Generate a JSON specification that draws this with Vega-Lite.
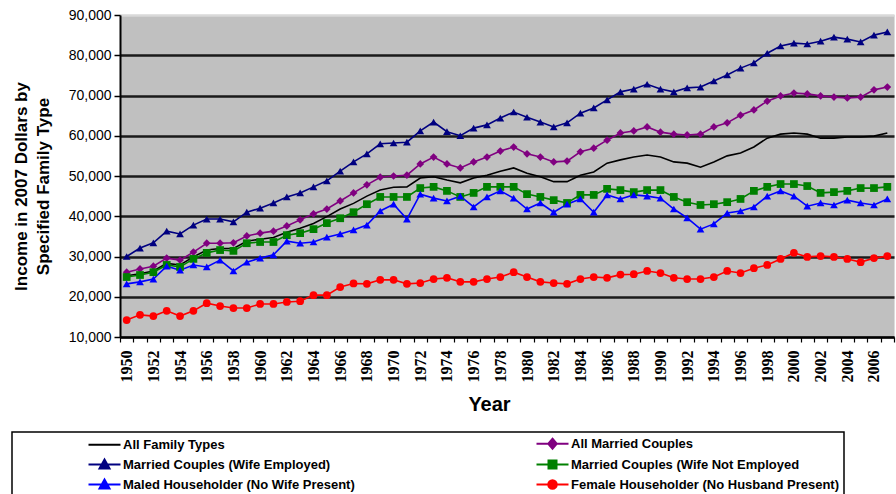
{
  "$schema": "https://vega.github.io/schema/vega-lite/v6.json",
  "width": 774,
  "height": 322,
  "autosize": "none",
  "padding": {"left": 120, "top": 15, "right": 2, "bottom": 157},
  "background": "#ffffff",
  "config": {
    "view": {"fill": "#c0c0c0", "stroke": "#dcdcdc", "strokeWidth": 1},
    "legend": {
      "orient": "none", "legendX": -108, "legendY": 417, "columns": 2, "direction": "horizontal", "columnPadding": 110,
      "rowPadding": 2, "padding": 5, "fillColor": "#ffffff", "strokeColor": "#000000", "strokeWidth": 1.5,
      "symbolSize": 100, "symbolStrokeWidth": 2, "symbolOffset": 81, "labelOffset": 12,
      "labelFont": "Liberation Sans", "labelFontSize": 13, "labelFontWeight": "bold", "labelColor": "#000000", "labelLimit": 400
    }
  },
  "data": {"values": [
    {"year":1950,"series":"AF","income":25200},{"year":1951,"series":"AF","income":25700},{"year":1952,"series":"AF","income":26400},{"year":1953,"series":"AF","income":28300},{"year":1954,"series":"AF","income":27900},{"year":1955,"series":"AF","income":29900},{"year":1956,"series":"AF","income":31600},{"year":1957,"series":"AF","income":32000},{"year":1958,"series":"AF","income":32000},{"year":1959,"series":"AF","income":33800},
    {"year":1960,"series":"AF","income":34300},{"year":1961,"series":"AF","income":34700},{"year":1962,"series":"AF","income":36000},{"year":1963,"series":"AF","income":37000},{"year":1964,"series":"AF","income":38200},{"year":1965,"series":"AF","income":39900},{"year":1966,"series":"AF","income":41800},{"year":1967,"series":"AF","income":43200},{"year":1968,"series":"AF","income":45000},{"year":1969,"series":"AF","income":46500},
    {"year":1970,"series":"AF","income":47200},{"year":1971,"series":"AF","income":47300},{"year":1972,"series":"AF","income":49500},{"year":1973,"series":"AF","income":49800},{"year":1974,"series":"AF","income":49000},{"year":1975,"series":"AF","income":48300},{"year":1976,"series":"AF","income":49500},{"year":1977,"series":"AF","income":50200},{"year":1978,"series":"AF","income":51200},{"year":1979,"series":"AF","income":52000},
    {"year":1980,"series":"AF","income":50700},{"year":1981,"series":"AF","income":49800},{"year":1982,"series":"AF","income":48600},{"year":1983,"series":"AF","income":48600},{"year":1984,"series":"AF","income":50200},{"year":1985,"series":"AF","income":51000},{"year":1986,"series":"AF","income":53200},{"year":1987,"series":"AF","income":54000},{"year":1988,"series":"AF","income":54700},{"year":1989,"series":"AF","income":55200},
    {"year":1990,"series":"AF","income":54700},{"year":1991,"series":"AF","income":53500},{"year":1992,"series":"AF","income":53200},{"year":1993,"series":"AF","income":52200},{"year":1994,"series":"AF","income":53500},{"year":1995,"series":"AF","income":55000},{"year":1996,"series":"AF","income":55700},{"year":1997,"series":"AF","income":57200},{"year":1998,"series":"AF","income":59400},{"year":1999,"series":"AF","income":60400},
    {"year":2000,"series":"AF","income":60700},{"year":2001,"series":"AF","income":60400},{"year":2002,"series":"AF","income":59400},{"year":2003,"series":"AF","income":59400},{"year":2004,"series":"AF","income":59700},{"year":2005,"series":"AF","income":59700},{"year":2006,"series":"AF","income":59900},{"year":2007,"series":"AF","income":60700},

    {"year":1950,"series":"MC","income":26100},{"year":1951,"series":"MC","income":26900},{"year":1952,"series":"MC","income":27600},{"year":1953,"series":"MC","income":29600},{"year":1954,"series":"MC","income":29100},{"year":1955,"series":"MC","income":31100},{"year":1956,"series":"MC","income":33300},{"year":1957,"series":"MC","income":33300},{"year":1958,"series":"MC","income":33400},{"year":1959,"series":"MC","income":35100},
    {"year":1960,"series":"MC","income":35800},{"year":1961,"series":"MC","income":36300},{"year":1962,"series":"MC","income":37600},{"year":1963,"series":"MC","income":39100},{"year":1964,"series":"MC","income":40600},{"year":1965,"series":"MC","income":41800},{"year":1966,"series":"MC","income":43800},{"year":1967,"series":"MC","income":45800},{"year":1968,"series":"MC","income":47800},{"year":1969,"series":"MC","income":49700},
    {"year":1970,"series":"MC","income":50000},{"year":1971,"series":"MC","income":50200},{"year":1972,"series":"MC","income":53000},{"year":1973,"series":"MC","income":54700},{"year":1974,"series":"MC","income":53000},{"year":1975,"series":"MC","income":52000},{"year":1976,"series":"MC","income":53500},{"year":1977,"series":"MC","income":54700},{"year":1978,"series":"MC","income":56200},{"year":1979,"series":"MC","income":57200},
    {"year":1980,"series":"MC","income":55500},{"year":1981,"series":"MC","income":54700},{"year":1982,"series":"MC","income":53500},{"year":1983,"series":"MC","income":53700},{"year":1984,"series":"MC","income":56000},{"year":1985,"series":"MC","income":56900},{"year":1986,"series":"MC","income":58900},{"year":1987,"series":"MC","income":60700},{"year":1988,"series":"MC","income":61200},{"year":1989,"series":"MC","income":62200},
    {"year":1990,"series":"MC","income":60900},{"year":1991,"series":"MC","income":60400},{"year":1992,"series":"MC","income":60200},{"year":1993,"series":"MC","income":60400},{"year":1994,"series":"MC","income":62200},{"year":1995,"series":"MC","income":63200},{"year":1996,"series":"MC","income":65100},{"year":1997,"series":"MC","income":66400},{"year":1998,"series":"MC","income":68600},{"year":1999,"series":"MC","income":69900},
    {"year":2000,"series":"MC","income":70600},{"year":2001,"series":"MC","income":70400},{"year":2002,"series":"MC","income":69900},{"year":2003,"series":"MC","income":69600},{"year":2004,"series":"MC","income":69400},{"year":2005,"series":"MC","income":69600},{"year":2006,"series":"MC","income":71400},{"year":2007,"series":"MC","income":72100},

    {"year":1950,"series":"WE","income":30000},{"year":1951,"series":"WE","income":32100},{"year":1952,"series":"WE","income":33400},{"year":1953,"series":"WE","income":36300},{"year":1954,"series":"WE","income":35600},{"year":1955,"series":"WE","income":37800},{"year":1956,"series":"WE","income":39300},{"year":1957,"series":"WE","income":39300},{"year":1958,"series":"WE","income":38600},{"year":1959,"series":"WE","income":41000},
    {"year":1960,"series":"WE","income":42000},{"year":1961,"series":"WE","income":43300},{"year":1962,"series":"WE","income":44800},{"year":1963,"series":"WE","income":45800},{"year":1964,"series":"WE","income":47300},{"year":1965,"series":"WE","income":48800},{"year":1966,"series":"WE","income":51200},{"year":1967,"series":"WE","income":53500},{"year":1968,"series":"WE","income":55500},{"year":1969,"series":"WE","income":58000},
    {"year":1970,"series":"WE","income":58200},{"year":1971,"series":"WE","income":58400},{"year":1972,"series":"WE","income":61200},{"year":1973,"series":"WE","income":63400},{"year":1974,"series":"WE","income":61000},{"year":1975,"series":"WE","income":60000},{"year":1976,"series":"WE","income":61900},{"year":1977,"series":"WE","income":62700},{"year":1978,"series":"WE","income":64400},{"year":1979,"series":"WE","income":65900},
    {"year":1980,"series":"WE","income":64600},{"year":1981,"series":"WE","income":63400},{"year":1982,"series":"WE","income":62200},{"year":1983,"series":"WE","income":63200},{"year":1984,"series":"WE","income":65600},{"year":1985,"series":"WE","income":66900},{"year":1986,"series":"WE","income":68900},{"year":1987,"series":"WE","income":70900},{"year":1988,"series":"WE","income":71600},{"year":1989,"series":"WE","income":72800},
    {"year":1990,"series":"WE","income":71600},{"year":1991,"series":"WE","income":70900},{"year":1992,"series":"WE","income":71900},{"year":1993,"series":"WE","income":72100},{"year":1994,"series":"WE","income":73600},{"year":1995,"series":"WE","income":75100},{"year":1996,"series":"WE","income":76800},{"year":1997,"series":"WE","income":78100},{"year":1998,"series":"WE","income":80500},{"year":1999,"series":"WE","income":82300},
    {"year":2000,"series":"WE","income":83000},{"year":2001,"series":"WE","income":82800},{"year":2002,"series":"WE","income":83500},{"year":2003,"series":"WE","income":84500},{"year":2004,"series":"WE","income":84000},{"year":2005,"series":"WE","income":83300},{"year":2006,"series":"WE","income":85000},{"year":2007,"series":"WE","income":85800},

    {"year":1950,"series":"WN","income":24900},{"year":1951,"series":"WN","income":25400},{"year":1952,"series":"WN","income":26100},{"year":1953,"series":"WN","income":27900},{"year":1954,"series":"WN","income":27400},{"year":1955,"series":"WN","income":29400},{"year":1956,"series":"WN","income":30900},{"year":1957,"series":"WN","income":31600},{"year":1958,"series":"WN","income":31400},{"year":1959,"series":"WN","income":33300},
    {"year":1960,"series":"WN","income":33600},{"year":1961,"series":"WN","income":33600},{"year":1962,"series":"WN","income":35300},{"year":1963,"series":"WN","income":35800},{"year":1964,"series":"WN","income":36800},{"year":1965,"series":"WN","income":38300},{"year":1966,"series":"WN","income":39500},{"year":1967,"series":"WN","income":41000},{"year":1968,"series":"WN","income":43000},{"year":1969,"series":"WN","income":44800},
    {"year":1970,"series":"WN","income":44800},{"year":1971,"series":"WN","income":44800},{"year":1972,"series":"WN","income":47000},{"year":1973,"series":"WN","income":47300},{"year":1974,"series":"WN","income":46300},{"year":1975,"series":"WN","income":44800},{"year":1976,"series":"WN","income":45800},{"year":1977,"series":"WN","income":47300},{"year":1978,"series":"WN","income":47300},{"year":1979,"series":"WN","income":47300},
    {"year":1980,"series":"WN","income":45500},{"year":1981,"series":"WN","income":44800},{"year":1982,"series":"WN","income":44000},{"year":1983,"series":"WN","income":43300},{"year":1984,"series":"WN","income":45300},{"year":1985,"series":"WN","income":45300},{"year":1986,"series":"WN","income":46800},{"year":1987,"series":"WN","income":46500},{"year":1988,"series":"WN","income":46000},{"year":1989,"series":"WN","income":46500},
    {"year":1990,"series":"WN","income":46500},{"year":1991,"series":"WN","income":44800},{"year":1992,"series":"WN","income":43500},{"year":1993,"series":"WN","income":42800},{"year":1994,"series":"WN","income":43000},{"year":1995,"series":"WN","income":43500},{"year":1996,"series":"WN","income":44300},{"year":1997,"series":"WN","income":46300},{"year":1998,"series":"WN","income":47300},{"year":1999,"series":"WN","income":48000},
    {"year":2000,"series":"WN","income":48000},{"year":2001,"series":"WN","income":47500},{"year":2002,"series":"WN","income":45800},{"year":2003,"series":"WN","income":46000},{"year":2004,"series":"WN","income":46300},{"year":2005,"series":"WN","income":47000},{"year":2006,"series":"WN","income":47000},{"year":2007,"series":"WN","income":47300},

    {"year":1950,"series":"MH","income":23200},{"year":1951,"series":"MH","income":23700},{"year":1952,"series":"MH","income":24400},{"year":1953,"series":"MH","income":27600},{"year":1954,"series":"MH","income":26600},{"year":1955,"series":"MH","income":27900},{"year":1956,"series":"MH","income":27400},{"year":1957,"series":"MH","income":29100},{"year":1958,"series":"MH","income":26400},{"year":1959,"series":"MH","income":28600},
    {"year":1960,"series":"MH","income":29600},{"year":1961,"series":"MH","income":30400},{"year":1962,"series":"MH","income":33800},{"year":1963,"series":"MH","income":33300},{"year":1964,"series":"MH","income":33600},{"year":1965,"series":"MH","income":34800},{"year":1966,"series":"MH","income":35600},{"year":1967,"series":"MH","income":36600},{"year":1968,"series":"MH","income":37800},{"year":1969,"series":"MH","income":41300},
    {"year":1970,"series":"MH","income":43000},{"year":1971,"series":"MH","income":39300},{"year":1972,"series":"MH","income":45500},{"year":1973,"series":"MH","income":44500},{"year":1974,"series":"MH","income":43800},{"year":1975,"series":"MH","income":45000},{"year":1976,"series":"MH","income":42300},{"year":1977,"series":"MH","income":44800},{"year":1978,"series":"MH","income":46300},{"year":1979,"series":"MH","income":44500},
    {"year":1980,"series":"MH","income":41800},{"year":1981,"series":"MH","income":43300},{"year":1982,"series":"MH","income":41000},{"year":1983,"series":"MH","income":43000},{"year":1984,"series":"MH","income":44300},{"year":1985,"series":"MH","income":41000},{"year":1986,"series":"MH","income":45300},{"year":1987,"series":"MH","income":44300},{"year":1988,"series":"MH","income":45300},{"year":1989,"series":"MH","income":45000},
    {"year":1990,"series":"MH","income":44500},{"year":1991,"series":"MH","income":41800},{"year":1992,"series":"MH","income":39600},{"year":1993,"series":"MH","income":36800},{"year":1994,"series":"MH","income":38100},{"year":1995,"series":"MH","income":40800},{"year":1996,"series":"MH","income":41300},{"year":1997,"series":"MH","income":42300},{"year":1998,"series":"MH","income":45000},{"year":1999,"series":"MH","income":46300},
    {"year":2000,"series":"MH","income":45000},{"year":2001,"series":"MH","income":42500},{"year":2002,"series":"MH","income":43300},{"year":2003,"series":"MH","income":42800},{"year":2004,"series":"MH","income":44000},{"year":2005,"series":"MH","income":43300},{"year":2006,"series":"MH","income":42800},{"year":2007,"series":"MH","income":44300},

    {"year":1950,"series":"FH","income":14200},{"year":1951,"series":"FH","income":15500},{"year":1952,"series":"FH","income":15200},{"year":1953,"series":"FH","income":16500},{"year":1954,"series":"FH","income":15200},{"year":1955,"series":"FH","income":16500},{"year":1956,"series":"FH","income":18400},{"year":1957,"series":"FH","income":17700},{"year":1958,"series":"FH","income":17200},{"year":1959,"series":"FH","income":17200},
    {"year":1960,"series":"FH","income":18200},{"year":1961,"series":"FH","income":18200},{"year":1962,"series":"FH","income":18700},{"year":1963,"series":"FH","income":18900},{"year":1964,"series":"FH","income":20400},{"year":1965,"series":"FH","income":20400},{"year":1966,"series":"FH","income":22400},{"year":1967,"series":"FH","income":23300},{"year":1968,"series":"FH","income":23200},{"year":1969,"series":"FH","income":24200},
    {"year":1970,"series":"FH","income":24200},{"year":1971,"series":"FH","income":23200},{"year":1972,"series":"FH","income":23400},{"year":1973,"series":"FH","income":24400},{"year":1974,"series":"FH","income":24700},{"year":1975,"series":"FH","income":23700},{"year":1976,"series":"FH","income":23700},{"year":1977,"series":"FH","income":24400},{"year":1978,"series":"FH","income":24900},{"year":1979,"series":"FH","income":26100},
    {"year":1980,"series":"FH","income":24900},{"year":1981,"series":"FH","income":23700},{"year":1982,"series":"FH","income":23400},{"year":1983,"series":"FH","income":23200},{"year":1984,"series":"FH","income":24400},{"year":1985,"series":"FH","income":24900},{"year":1986,"series":"FH","income":24700},{"year":1987,"series":"FH","income":25500},{"year":1988,"series":"FH","income":25600},{"year":1989,"series":"FH","income":26400},
    {"year":1990,"series":"FH","income":25900},{"year":1991,"series":"FH","income":24700},{"year":1992,"series":"FH","income":24400},{"year":1993,"series":"FH","income":24400},{"year":1994,"series":"FH","income":24900},{"year":1995,"series":"FH","income":26400},{"year":1996,"series":"FH","income":25900},{"year":1997,"series":"FH","income":27100},{"year":1998,"series":"FH","income":27900},{"year":1999,"series":"FH","income":29400},
    {"year":2000,"series":"FH","income":30900},{"year":2001,"series":"FH","income":29900},{"year":2002,"series":"FH","income":30100},{"year":2003,"series":"FH","income":29900},{"year":2004,"series":"FH","income":29400},{"year":2005,"series":"FH","income":28600},{"year":2006,"series":"FH","income":29600},{"year":2007,"series":"FH","income":30100}
  ]},
  "encoding": {
    "x": {
      "field": "year", "type": "quantitative",
      "scale": {"domain": [1949.5, 2007.5], "nice": false, "zero": false},
      "axis": {
        "values": [1949.5,1950.5,1951.5,1952.5,1953.5,1954.5,1955.5,1956.5,1957.5,1958.5,1959.5,1960.5,1961.5,1962.5,1963.5,1964.5,1965.5,1966.5,1967.5,1968.5,1969.5,1970.5,1971.5,1972.5,1973.5,1974.5,1975.5,1976.5,1977.5,1978.5,1979.5,1980.5,1981.5,1982.5,1983.5,1984.5,1985.5,1986.5,1987.5,1988.5,1989.5,1990.5,1991.5,1992.5,1993.5,1994.5,1995.5,1996.5,1997.5,1998.5,1999.5,2000.5,2001.5,2002.5,2003.5,2004.5,2005.5,2006.5,2007.5],
        "labelExpr": "((datum.value + 0.5) % 2 == 0 && datum.value < 2007) ? toString(datum.value + 0.5) : ''",
        "labelOffset": 6.67, "labelAngle": 270, "labelFont": "Liberation Serif", "labelFontWeight": "bold", "labelFontSize": 16,
        "labelColor": "#000000", "labelPadding": 8, "labelOverlap": false, "labelBound": false, "labelFlush": false,
        "tickSize": 5, "tickColor": "#000000", "tickWidth": 1.2, "domainColor": "#000000", "domainWidth": 2, "grid": false,
        "title": "Year", "titleFont": "Liberation Sans", "titleFontSize": 20, "titleFontWeight": "bold", "titleColor": "#000000",
        "titleX": 369, "titleY": 57, "titleAlign": "center", "titleBaseline": "top"
      }
    },
    "y": {
      "field": "income", "type": "quantitative",
      "scale": {"domain": [10000, 90000], "nice": false, "zero": false},
      "axis": {
        "values": [10000,20000,30000,40000,50000,60000,70000,80000,90000], "format": ",.0f",
        "labelFont": "Liberation Sans", "labelFontSize": 14, "labelColor": "#000000", "labelPadding": 3,
        "tickSize": 6, "tickColor": "#000000", "tickWidth": 1.5, "domainColor": "#000000", "domainWidth": 2,
        "grid": true, "gridWidth": 2.5,
        "gridColor": {"condition": {"test": "datum.value === 90000", "value": "#d9d9d9"}, "value": "#1a1a1a"},
        "title": ["Income in 2007 Dollars by", "Specified Family Type"],
        "titleFont": "Liberation Sans", "titleFontSize": 17, "titleFontWeight": "bold", "titleColor": "#000000",
        "titleLineHeight": 22, "titleX": -107, "titleY": 171, "titleAlign": "center", "titleBaseline": "top", "titleAngle": 270
      }
    }
  },
  "layer": [
    {
      "mark": {"type": "line", "strokeWidth": 1.6},
      "encoding": {
        "color": {"field": "series", "type": "nominal", "legend": null,
          "scale": {"domain": ["AF","MC","WE","WN","MH","FH"], "range": ["#000000","#800080","#000080","#008000","#0000ff","#ff0000"]}},
        "strokeWidth": {"condition": {"test": "datum.series === 'AF'", "value": 2.6}, "value": 1.6}
      }
    },
    {
      "transform": [{"filter": "datum.series !== 'AF'"}],
      "mark": {"type": "point", "filled": true, "opacity": 1, "size": 60},
      "encoding": {
        "color": {"field": "series", "type": "nominal", "legend": null,
          "scale": {"domain": ["AF","MC","WE","WN","MH","FH"], "range": ["#000000","#800080","#000080","#008000","#0000ff","#ff0000"]}},
        "shape": {"field": "series", "type": "nominal", "legend": null,
          "scale": {"domain": ["MC","WE","WN","MH","FH"], "range": ["diamond","triangle-up","square","triangle-up","circle"]}}
      }
    },
    {
      "transform": [{"filter": "datum.year < 0"}],
      "mark": {"type": "point", "opacity": 1, "strokeWidth": 2},
      "encoding": {
        "fill": {"field": "series", "type": "nominal",
          "scale": {"domain": ["AF","MC","WE","WN","MH","FH"], "range": ["#000000","#800080","#000080","#008000","#0000ff","#ff0000"]},
          "legend": {"title": null, "labelExpr": "{'AF':'All Family Types','MC':'All Married Couples','WE':'Married Couples (Wife Employed)','WN':'Married Couples (Wife Not Employed','MH':'Maled Householder (No Wife Present)','FH':'Female Householder (No Husband Present)'}[datum.value]"}},
        "stroke": {"field": "series", "type": "nominal",
          "scale": {"domain": ["AF","MC","WE","WN","MH","FH"], "range": ["#000000","#800080","#000080","#008000","#0000ff","#ff0000"]},
          "legend": {"title": null, "labelExpr": "{'AF':'All Family Types','MC':'All Married Couples','WE':'Married Couples (Wife Employed)','WN':'Married Couples (Wife Not Employed','MH':'Maled Householder (No Wife Present)','FH':'Female Householder (No Husband Present)'}[datum.value]"}},
        "shape": {"field": "series", "type": "nominal",
          "scale": {"domain": ["AF","MC","WE","WN","MH","FH"], "range": [
            "M-3.2,0H3.2",
            "M-3.2,0H3.2M0,-1L0.85,0L0,1L-0.85,0Z",
            "M-3.2,0H3.2M0,-1L1,0.8L-1,0.8Z",
            "M-3.2,0H3.2M-0.8,-0.8H0.8V0.8H-0.8Z",
            "M-3.2,0H3.2M0,-1L1,0.8L-1,0.8Z",
            "M-3.2,0H3.2M0.85,0A0.85,0.85,0,1,1,-0.85,0A0.85,0.85,0,1,1,0.85,0Z"
          ]},
          "legend": {"title": null, "labelExpr": "{'AF':'All Family Types','MC':'All Married Couples','WE':'Married Couples (Wife Employed)','WN':'Married Couples (Wife Not Employed','MH':'Maled Householder (No Wife Present)','FH':'Female Householder (No Husband Present)'}[datum.value]"}}
      }
    }
  ],
  "resolve": {"scale": {"shape": "independent", "fill": "independent", "stroke": "independent"}}
}
